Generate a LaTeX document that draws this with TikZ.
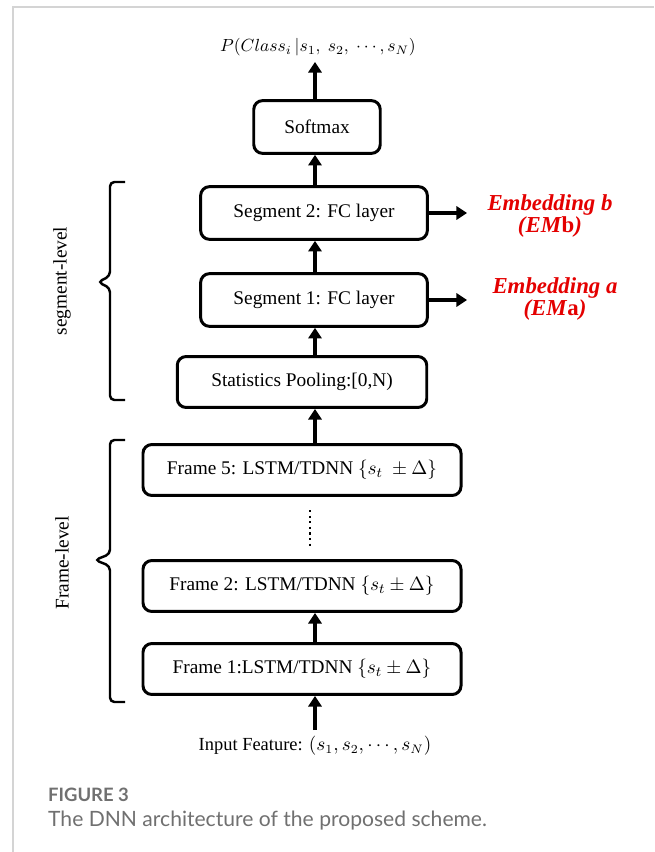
\documentclass[tikz,border=0pt]{standalone}
\usepackage{fontspec}
\setmainfont{Liberation Serif}
\newfontfamily\capfont{Lato}
\usepackage{tikz}
\usetikzlibrary{arrows.meta}

\definecolor{embred}{RGB}{228,0,0}
\definecolor{capgray}{RGB}{112,112,112}
\definecolor{rulegray}{RGB}{212,212,212}

\tikzset{
  layer/.style={draw,line width=1.7pt,rounded corners=5pt,minimum height=30pt,inner sep=0pt,font=\fontsize{11}{13}\selectfont},
  flow/.style={line width=2pt,-{Triangle[width=7.5pt,length=6pt]}},
  emb/.style={align=center,text=embred,font=\fontsize{13}{12.5}\selectfont\bfseries\itshape},
  bracket/.style={line width=1.4pt,rounded corners=2.5pt},
  lvl/.style={rotate=90,font=\fontsize{11}{13}\selectfont},
}

\begin{document}
\begin{tikzpicture}[x=0.02cm,y=-0.02cm]
\useasboundingbox (0,0) rectangle (654,852);
\draw[rulegray,line width=1.2pt] (13,852) -- (13,7) -- (654,7);
% arrow column
\coordinate (spine) at (315,0);

\node (out) at (318,47) {$P(Class_i\,|s_1,\ s_2,\ \cdots,s_N)$};
\node[layer,minimum width=72pt] (softmax) at (317,127) {Softmax};
\node[layer,minimum width=129pt] (seg2) at (314,213) {Segment 2: FC layer};
\node[layer,minimum width=129pt] (seg1) at (314,300) {Segment 1: FC layer};
\node[layer,minimum width=142pt,minimum height=29pt] (pool) at (302,382) {Statistics Pooling:[0,N)};
\node[layer,minimum width=181pt,minimum height=29pt] (fr5) at (302,470) {Frame 5: LSTM/TDNN $\{s_t\ \pm\Delta\}$};
\node[layer,minimum width=181pt,minimum height=29pt] (fr2) at (302,586) {Frame 2: LSTM/TDNN $\{s_t\pm\Delta\}$};
\node[layer,minimum width=181pt,minimum height=29pt] (fr1) at (302,669) {Frame 1:LSTM/TDNN $\{s_t\pm\Delta\}$};
\node[font=\fontsize{10.5}{12}\selectfont] (in) at (315,746) {Input Feature: $(s_1,s_2,\cdots,s_N)$};

\node[emb] (embb) at (550,216) {Embedding b\\(\textit{EM}\textup{b})};
\node[emb] (emba) at (555,299) {Embedding a\\(\textit{EM}\textup{a})};
\coordinate (tipb) at (467,213);
\coordinate (tipa) at (467,300);

% vertical flow
\draw[flow] (in.north -| spine) -- (fr1.south -| spine);
\draw[flow] (fr1.north -| spine) -- (fr2.south -| spine);
\draw[flow] (fr5.north -| spine) -- (pool.south -| spine);
\draw[flow] (pool.north -| spine) -- (seg1.south -| spine);
\draw[flow] (seg1.north -| spine) -- (seg2.south -| spine);
\draw[flow] (seg2.north -| spine) -- (softmax.south -| spine);
\draw[flow] (softmax.north -| spine) -- (out.south -| spine);
\draw[flow] (seg2.east) -- (tipb);
\draw[flow] (seg1.east) -- (tipa);
\draw[line width=1.2pt,dotted] (310,510) -- (310,546);

% braces
\draw[bracket] (125,182) -- (110,182) -- (110,276) -- (98,282) -- (110,288) -- (110,400) -- (125,400);
\draw[bracket] (125,440) -- (110,440) -- (110,554) -- (95,560) -- (110,566) -- (110,702) -- (125,702);
\node[lvl] (seglvl) at (62,281) {segment-level};
\node[lvl] (frlvl) at (62,563) {Frame-level};

% caption
\node[anchor=west,text=capgray,font=\capfont\fontsize{10.5}{13}\selectfont\bfseries] (fig) at (42,795) {FIGURE 3};
\node[anchor=west,text=capgray,font=\capfont\fontsize{12}{14}\selectfont] (cap) at (42,821) {The DNN architecture of the proposed scheme.};
\end{tikzpicture}
\end{document}
